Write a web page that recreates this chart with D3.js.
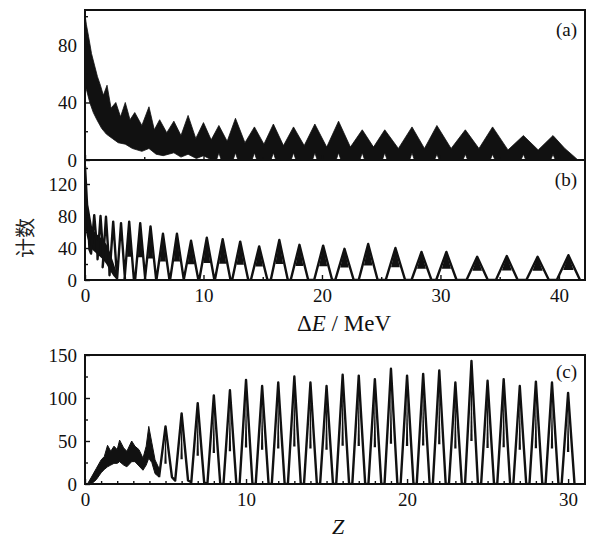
<!DOCTYPE html>
<html>
<head>
<meta charset="utf-8">
<script src="https://cdn.jsdelivr.net/npm/d3@7"></script>
<style>
  html, body { margin: 0; padding: 0; background: #fff; }
  svg { display: block; }
  .tick text { font-family: "Liberation Serif", "Times New Roman", serif; font-size: 19px; fill: #111; }
  .tick line { stroke: #111; stroke-width: 1.4; }
  .lbl { font-family: "Liberation Serif", "Times New Roman", serif; fill: #111; }
</style>
</head>
<body>
<div id="chart"></div>
<script>
const width = 594;
const height = 542;

// ---- panel (a): noisy band, upper and lower envelope ----
const aTopE = [0, 0.12, 0.3, 0.55, 0.8, 1.05, 1.3, 1.55, 1.86, 2.2, 2.6, 3.0, 3.4, 3.8, 4.2, 4.8,
  5.4, 5.85, 6.3, 6.9, 7.5, 8.1, 8.7, 9.35, 10.0, 10.65, 11.3, 12.0, 12.7, 13.5, 14.3, 15.1,
  15.9, 16.75, 17.6, 18.5, 19.4, 20.4, 21.4, 22.4, 23.4, 24.35, 25.3, 26.45, 27.6, 28.65, 29.7, 30.9,
  32.1, 33.25, 34.4, 35.7, 37.0, 38.25, 39.5, 40.5, 41.2, 41.6];
const aTop = [101, 94, 86, 74, 66, 58, 52, 45, 52, 36, 40, 30, 40, 28, 33, 24,
  37, 21, 28, 19, 27, 17, 31, 15, 26, 14, 24, 13, 29, 12, 23, 11,
  25, 10, 23, 10, 25, 9, 27, 9, 21, 9, 21, 8, 23, 8, 24, 8,
  21, 8, 23, 7, 17, 7, 17, 8, 3, 0];
const aBotE = [0, 0.15, 0.4, 0.7, 1.0, 1.4, 1.8, 2.3, 2.8, 3.4, 4.0, 4.8, 5.4, 6.0, 6.6, 7.5,
  8.1, 8.7, 9.4, 10.0, 10.7,
  11.1, 11.3, 11.5, 12.5, 12.7, 12.9, 14.1, 14.3, 14.5, 15.7, 15.9, 16.1, 17.4, 17.6, 17.8,
  19.2, 19.4, 19.6, 21.2, 21.4, 21.6, 23.2, 23.4, 23.6, 25.1, 25.3, 25.5, 27.4, 27.6, 27.8,
  29.5, 29.7, 29.9, 31.9, 32.1, 32.3, 34.2, 34.4, 34.6, 36.8, 37.0, 37.2, 39.3, 39.5, 39.7, 41.6];
const aBot = [52, 48, 40, 33, 28, 22, 18, 15, 12, 11, 8, 6, 8, 4, 3, 5,
  2, 4, 1, 3, 0,
  0, 5, 0, 0, 5, 0, 0, 5, 0, 0, 5, 0, 0, 5, 0,
  0, 5, 0, 0, 5, 0, 0, 5, 0, 0, 5, 0, 0, 5, 0,
  0, 4, 0, 0, 4, 0, 0, 4, 0, 0, 4, 0, 0, 4, 0, 0];

// ---- panel (b): resolved peaks ----
const bPeakE = [0.0, 0.78, 1.31, 1.77, 2.38, 3.04, 3.73, 4.66, 5.53, 6.58, 7.76, 8.95, 10.28, 11.62,
  13.1, 14.7, 16.4, 18.1, 20.1, 21.9, 23.9, 26.2, 28.4, 30.5, 33.1, 35.6, 38.2, 40.8];
const bPeakCounts = [142, 81, 80, 79, 73, 71, 73, 71, 67, 58, 58, 49, 53, 51,
  48, 42, 50, 44, 43, 39, 45, 40, 35, 35, 29, 30, 29, 31];
const bHalfWidth = [0.38, 0.27, 0.25, 0.28, 0.31, 0.33, 0.4, 0.43, 0.48, 0.55, 0.58, 0.62, 0.64, 0.66,
  0.68, 0.7, 0.72, 0.74, 0.76, 0.78, 0.8, 0.82, 0.84, 0.86, 0.9, 0.92, 0.95, 0.98];
const bFloor = [38, 33, 26, 16, 6, 2, 0, 0, 0, 0, 0, 0, 0, 0,
  0, 0, 0, 0, 0, 0, 0, 0, 0, 0, 0, 0, 0, 0];
// dense start of (b)
const bBandE = [0, 0.15, 0.35, 0.6, 0.9, 1.2, 1.5, 1.8, 2.1, 2.4, 2.7];
const bBandHigh = [142, 100, 88, 66, 58, 55, 50, 45, 35, 22, 8];
const bBandLow = [70, 55, 45, 38, 34, 30, 26, 20, 12, 5, 0];

// ---- panel (c): Z spectrum ----
const cBandZ = [0.15, 0.4, 0.7, 1.0, 1.2, 1.4, 1.6, 1.8, 2.0, 2.15, 2.4, 2.6, 2.9, 3.1, 3.35, 3.6,
  3.8, 3.96, 4.15, 4.35, 4.6];
const cBandHigh = [0, 8, 18, 28, 32, 45, 38, 44, 40, 51, 42, 38, 50, 44, 40, 30, 44, 67, 48, 28, 18];
const cBandLow = [0, 0, 5, 13, 17, 20, 22, 24, 24, 26, 22, 20, 26, 26, 21, 16, 22, 30, 25, 12, 8];
const cPeakZ = [5, 6, 7, 8, 9, 10, 11, 12, 13, 14, 15, 16, 17, 18, 19, 20, 21, 22, 23, 24, 25, 26, 27, 28, 29, 30];
const cPeakCounts = [67, 82, 94, 103, 109, 121, 114, 118, 125, 118, 114, 127, 126, 122, 134, 126,
  128, 132, 118, 143, 120, 122, 114, 119, 118, 106];
const cFloor = [8, 4, 2, 0, 0, 0, 0, 0, 0, 0, 0, 0, 0, 0, 0, 0, 0, 0, 0, 0, 0, 0, 0, 0, 0, 0];
const cHalfWidth = 0.4;

// tick labels
const eTicks = [0, 10, 20, 30, 40];
const zTicks = [0, 10, 20, 30];
const aTicks = [0, 40, 80];
const bTicks = [0, 40, 80, 120];
const cTicks = [0, 50, 100, 150];

const left = 85, right = 585;

const svg = d3.select("#chart").append("svg")
  .attr("width", width)
  .attr("height", height);

const xE = d3.scaleLinear().domain([0, 42.2]).range([left, right]);
const xZ = d3.scaleLinear().domain([0, 31.05]).range([left, right]);
const yA = d3.scaleLinear().domain([0, 104.3]).range([160, 10]);
const yB = d3.scaleLinear().domain([0, 150]).range([280, 160]);
const yC = d3.scaleLinear().domain([0, 150]).range([484, 355]);

const defs = svg.append("defs");
function clip(id, y0, y1) {
  defs.append("clipPath").attr("id", id)
    .append("rect").attr("x", left).attr("y", y0).attr("width", right - left).attr("height", y1 - y0);
}
clip("clipA", 10, 160);
clip("clipB", 160, 280);
clip("clipC", 355, 484);

// closed polygon: upper envelope forward, lower envelope back
function bandPath(x, y, topX, topY, botX, botY) {
  const up = topX.map((v, i) => [x(v), y(topY[i])]);
  const down = botX.map((v, i) => [x(v), y(botY[i])]).reverse();
  return d3.line()(up.concat(down)) + "Z";
}

// each peak: left foot, apex, right foot
function peakPoints(pos, counts, hw, floor) {
  return pos.flatMap((p, i) => {
    const w = Array.isArray(hw) ? hw[i] : hw;
    return [[p - w, floor[i]], [p, counts[i]], [p + w, floor[i]]];
  });
}

// the noisy, filled-in upper part of each peak (spike hanging from the apex)
function drawCores(g, x, y, pos, counts, hw, spread, level) {
  g.selectAll(null)
    .data(pos.map((p, i) => ({ p, h: counts[i], w: Array.isArray(hw) ? hw[i] : hw })))
    .join("path")
    .attr("d", d => d3.line()([
      [x(d.p - d.w * spread), y(d.h * level)],
      [x(d.p), y(d.h)],
      [x(d.p + d.w * spread), y(d.h * level)]
    ]) + "Z")
    .attr("fill", "#111");
}

// panel a
svg.append("path")
  .attr("clip-path", "url(#clipA)")
  .attr("d", bandPath(xE, yA, aTopE, aTop, aBotE, aBot))
  .attr("fill", "#111")
  .attr("stroke", "#111")
  .attr("stroke-width", 0.8);

// panel b
const gB = svg.append("g").attr("clip-path", "url(#clipB)");
gB.append("path")
  .attr("d", d3.area().x((d, i) => xE(bBandE[i])).y0((d, i) => yB(bBandLow[i])).y1((d, i) => yB(bBandHigh[i]))(bBandE))
  .attr("fill", "#111");
gB.append("path")
  .datum(peakPoints(bPeakE, bPeakCounts, bHalfWidth, bFloor))
  .attr("d", d3.line().x(d => xE(d[0])).y(d => yB(d[1])))
  .attr("fill", "none")
  .attr("stroke", "#111")
  .attr("stroke-width", 2.4)
  .attr("stroke-linejoin", "round");
drawCores(gB, xE, yB, bPeakE.slice(6), bPeakCounts.slice(6), bHalfWidth.slice(6), 0.45, 0.4);

// panel c
const gC = svg.append("g").attr("clip-path", "url(#clipC)");
gC.append("path")
  .attr("d", d3.area().x((d, i) => xZ(cBandZ[i])).y0((d, i) => yC(cBandLow[i])).y1((d, i) => yC(cBandHigh[i]))(cBandZ))
  .attr("fill", "#111")
  .attr("stroke", "#111")
  .attr("stroke-width", 1);
gC.append("path")
  .datum(peakPoints(cPeakZ, cPeakCounts, cHalfWidth, cFloor))
  .attr("d", d3.line().x(d => xZ(d[0])).y(d => yC(d[1])))
  .attr("fill", "none")
  .attr("stroke", "#111")
  .attr("stroke-width", 2.4)
  .attr("stroke-linejoin", "round");
drawCores(gC, xZ, yC, cPeakZ, cPeakCounts, cHalfWidth, 0.18, 0.35);

// axes
function leftAxis(y, major, minor) {
  const g = svg.append("g").attr("transform", `translate(${left},0)`);
  g.call(d3.axisLeft(y).tickValues(major).tickSize(-5).tickPadding(8));
  g.append("g").call(d3.axisLeft(y).tickValues(minor).tickSize(-3).tickFormat(""));
  g.selectAll(".domain").remove();
}
leftAxis(yA, aTicks, [20, 60, 100]);
leftAxis(yB, bTicks, [20, 60, 100, 140]);
leftAxis(yC, cTicks, [25, 75, 125]);

function bottomAxis(x, yPos, major, minor, labels) {
  const g = svg.append("g").attr("transform", `translate(0,${yPos})`);
  const ax = d3.axisBottom(x).tickValues(major).tickSize(-5).tickPadding(9);
  if (!labels) ax.tickFormat("");
  g.call(ax);
  g.append("g").call(d3.axisBottom(x).tickValues(minor).tickSize(-3).tickFormat(""));
  g.selectAll(".domain").remove();
}
bottomAxis(xE, 160, eTicks, [5, 15, 25, 35], false);
bottomAxis(xE, 280, eTicks, [5, 15, 25, 35], true);
bottomAxis(xZ, 484, zTicks, d3.range(1, 31).filter(v => v % 10), true);

// frames
[[10, 160], [160, 280], [355, 484]].forEach(([t, b]) => {
  svg.append("rect")
    .attr("x", left).attr("y", t)
    .attr("width", right - left).attr("height", b - t)
    .attr("fill", "none")
    .attr("stroke", "#111")
    .attr("stroke-width", 2);
});

// panel tags
[["(a)", 36], ["(b)", 186], ["(c)", 378]].forEach(([t, y]) => {
  svg.append("text").attr("class", "lbl")
    .attr("x", 577).attr("y", y)
    .attr("text-anchor", "end")
    .style("font-size", "19px")
    .text(t);
});

// axis titles
const eTitle = svg.append("text").attr("class", "lbl")
  .attr("x", 344).attr("y", 331)
  .attr("text-anchor", "middle")
  .style("font-size", "23px");
eTitle.append("tspan").text("Δ");
eTitle.append("tspan").style("font-style", "italic").text("E");
eTitle.append("tspan").text(" / MeV");

svg.append("text").attr("class", "lbl")
  .attr("x", 338).attr("y", 534)
  .attr("text-anchor", "middle")
  .style("font-size", "22px")
  .style("font-style", "italic")
  .text("Z");

svg.append("text")
  .attr("transform", "translate(33,238) rotate(-90)")
  .attr("text-anchor", "middle")
  .style("font-family", '"Noto Sans CJK SC", sans-serif')
  .style("font-size", "20px")
  .style("fill", "#222")
  .text("计数");
</script>
</body>
</html>
